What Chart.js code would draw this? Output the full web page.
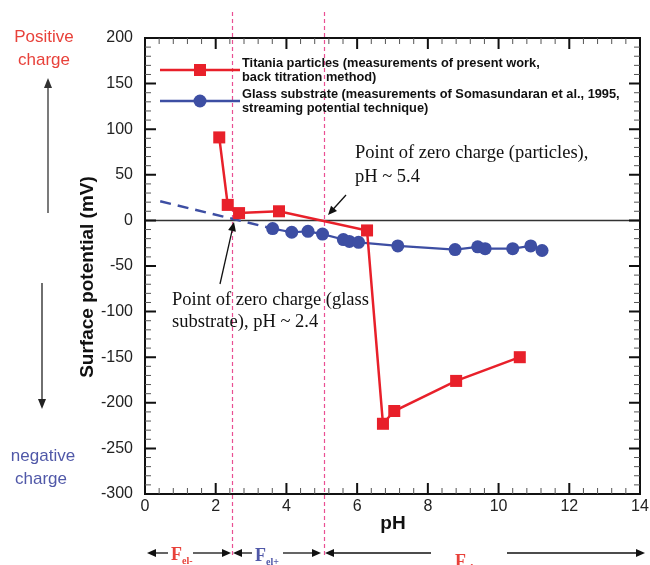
<!DOCTYPE html>
<html>
<head>
<meta charset="utf-8">
<script src="https://cdn.jsdelivr.net/npm/chart.js@4.4.1/dist/chart.umd.min.js"></script>
<style>
html,body{margin:0;padding:0;background:#fff;}
#wrap{width:650px;height:565px;position:relative;}
</style>
</head>
<body>
<div id="wrap"><canvas id="c" width="650" height="565"></canvas></div>
<script>
// ---- data ----
const titaniaPH = [2.10, 2.34, 2.66, 3.79, 6.28, 6.73, 7.05, 8.80, 10.60];
const titaniaMV = [91, 17, 8, 10, -11, -223, -209, -176, -150];
const glassPH = [3.61, 4.15, 4.61, 5.02, 5.61, 5.78, 6.04, 7.15, 8.77, 9.41, 9.62, 10.40, 10.91, 11.23];
const glassMV = [-9, -13, -12, -15, -21, -23, -24, -28, -32, -29, -31, -31, -28, -33];
const glassExtrapPH = [0.43, 3.61];
const glassExtrapMV = [21, -9];
const pzcLines = [2.45, 5.05];
const xTicks = [0, 2, 4, 6, 8, 10, 12, 14];
const yTicks = [200, 150, 100, 50, 0, -50, -100, -150, -200, -250, -300];
const legendLabels = [
  ["Titania particles (measurements of present work,", "back titration method)"],
  ["Glass substrate (measurements of Somasundaran et al., 1995,", "streaming potential technique)"]
];

const RED = '#e8202a';
const BLUE = '#3d4ea3';

function pts(xs, ys){ return xs.map((x,i)=>({x:x, y:ys[i]})); }

function arrowHead(ctx, x1, y1, x2, y2, len, w){
  const a = Math.atan2(y2-y1, x2-x1);
  ctx.beginPath();
  ctx.moveTo(x2, y2);
  ctx.lineTo(x2 - len*Math.cos(a) + w*Math.sin(a), y2 - len*Math.sin(a) - w*Math.cos(a));
  ctx.lineTo(x2 - len*Math.cos(a) - w*Math.sin(a), y2 - len*Math.sin(a) + w*Math.cos(a));
  ctx.closePath();
  ctx.fill();
}
function arrow(ctx, x1, y1, x2, y2, color, lw, len, w){
  ctx.save();
  ctx.strokeStyle = color; ctx.fillStyle = color; ctx.lineWidth = lw;
  const a = Math.atan2(y2-y1, x2-x1);
  ctx.beginPath(); ctx.moveTo(x1,y1); ctx.lineTo(x2 - (len-1)*Math.cos(a), y2 - (len-1)*Math.sin(a)); ctx.stroke();
  arrowHead(ctx, x1, y1, x2, y2, len, w);
  ctx.restore();
}

const decor = {
  id: 'decor',
  beforeDatasetsDraw(chart){
    const ctx = chart.ctx, xs = chart.scales.x;
    ctx.save();
    ctx.strokeStyle = '#ea4f93'; ctx.lineWidth = 1.2; ctx.setLineDash([4,3]);
    pzcLines.forEach(v=>{
      const px = Math.round(xs.getPixelForValue(v)) + 0.5;
      ctx.beginPath(); ctx.moveTo(px, 12); ctx.lineTo(px, 558); ctx.stroke();
    });
    ctx.restore();
  },
  afterDraw(chart){
    const ctx = chart.ctx, xs = chart.scales.x, ys = chart.scales.y, a = chart.chartArea;
    ctx.save();
    // frame
    ctx.strokeStyle = '#111'; ctx.lineWidth = 2;
    ctx.strokeRect(a.left, a.top, a.right - a.left, a.bottom - a.top);
    // ticks
    for (let v = 0; v <= 14.001; v += 0.4) {
      const major = Math.abs(v/2 - Math.round(v/2)) < 1e-6;
      const px = xs.getPixelForValue(v), L = major ? 11 : 6;
      ctx.lineWidth = major ? 2 : 1;
      ctx.strokeStyle = major ? '#111' : '#555';
      ctx.beginPath(); ctx.moveTo(px, a.bottom); ctx.lineTo(px, a.bottom - L);
      ctx.moveTo(px, a.top); ctx.lineTo(px, a.top + L); ctx.stroke();
    }
    for (let v = -300; v <= 200; v += 10) {
      const major = v % 50 === 0;
      const py = ys.getPixelForValue(v), L = major ? 11 : 6;
      ctx.lineWidth = major ? 2 : 1;
      ctx.strokeStyle = major ? '#111' : '#555';
      ctx.beginPath(); ctx.moveTo(a.left, py); ctx.lineTo(a.left + L, py);
      ctx.moveTo(a.right, py); ctx.lineTo(a.right - L, py); ctx.stroke();
    }
    // legend
    const lx1 = 160, lx2 = 240, lm = 200;
    const rows = [{y:70, c:RED, shape:'rect'}, {y:101, c:BLUE, shape:'circle'}];
    rows.forEach((r,i)=>{
      ctx.strokeStyle = r.c; ctx.fillStyle = r.c; ctx.lineWidth = 2.5;
      ctx.beginPath(); ctx.moveTo(lx1, r.y); ctx.lineTo(lx2, r.y); ctx.stroke();
      if (r.shape === 'rect') ctx.fillRect(lm-6, r.y-6, 12, 12);
      else { ctx.beginPath(); ctx.arc(lm, r.y, 6.5, 0, Math.PI*2); ctx.fill(); }
      ctx.fillStyle = '#111';
      ctx.font = 'bold 12.8px "Liberation Sans", Arial, sans-serif';
      ctx.textAlign = 'left'; ctx.textBaseline = 'middle';
      ctx.fillText(legendLabels[i][0], 242, r.y - 7);
      ctx.fillText(legendLabels[i][1], 242, r.y + 7);
    });
    // annotations (serif)
    ctx.fillStyle = '#111';
    ctx.font = '18.5px "Liberation Serif", "Times New Roman", serif';
    ctx.textAlign = 'left'; ctx.textBaseline = 'middle';
    ctx.fillText('Point of zero charge (particles),', 355, 153);
    ctx.fillText('pH ~ 5.4', 355, 177);
    ctx.fillText('Point of zero charge (glass', 172, 300);
    ctx.fillText('substrate), pH ~ 2.4', 172, 322);
    arrow(ctx, 346, 195, 328, 215, '#111', 1.3, 9, 4);
    arrow(ctx, 220, 284, 234, 222, '#111', 1.3, 9, 4);
    // left side labels
    ctx.font = '17px "Liberation Sans", Arial, sans-serif';
    ctx.textAlign = 'center';
    ctx.fillStyle = '#e8413a';
    ctx.fillText('Positive', 44, 37);
    ctx.fillText('charge', 44, 60);
    ctx.fillStyle = '#5058a8';
    ctx.fillText('negative', 43, 456);
    ctx.fillText('charge', 41, 479);
    arrow(ctx, 48, 213, 48, 78, '#333', 1.3, 10, 4);
    arrow(ctx, 42, 283, 42, 409, '#222', 1.3, 10, 4);
    // axis titles
    ctx.fillStyle = '#111';
    ctx.font = 'bold 19px "Liberation Sans", Arial, sans-serif';
    ctx.textAlign = 'center';
    ctx.fillText('pH', 393, 524);
    ctx.save();
    ctx.translate(88, 277); ctx.rotate(-Math.PI/2);
    ctx.font = 'bold 19px "Liberation Sans", Arial, sans-serif';
    ctx.fillText('Surface potential (mV)', 0, 0);
    ctx.restore();
    // bottom force row
    const by = 553;
    arrow(ctx, 168, by, 147, by, '#111', 1.3, 9, 4);
    arrow(ctx, 193, by, 231, by, '#111', 1.3, 9, 4);
    arrow(ctx, 252, by, 233, by, '#111', 1.3, 9, 4);
    arrow(ctx, 283, by, 321, by, '#111', 1.3, 9, 4);
    arrow(ctx, 431, by, 325, by, '#111', 1.3, 9, 4);
    arrow(ctx, 507, by, 645, by, '#111', 1.3, 9, 4);
    function force(x, y, color, sub){
      ctx.fillStyle = color; ctx.textAlign = 'left'; ctx.textBaseline = 'alphabetic';
      ctx.font = 'bold 18px "Liberation Serif", "Times New Roman", serif';
      ctx.fillText('F', x, y);
      const w = ctx.measureText('F').width;
      ctx.font = 'bold 10px "Liberation Serif", "Times New Roman", serif';
      ctx.fillText(sub, x + w, y + 4);
    }
    force(171, 560, '#e8413a', 'el-');
    force(255, 561, '#5058a8', 'el+');
    force(455, 567, '#e8413a', 'el-');
    ctx.restore();
  }
};

new Chart(document.getElementById('c'), {
  type: 'scatter',
  data: {
    datasets: [
      { label: legendLabels[0].join(' '), data: pts(titaniaPH, titaniaMV), showLine: true,
        borderColor: RED, backgroundColor: RED, borderWidth: 2.5, pointStyle: 'rect',
        pointRadius: 8.5, pointBorderWidth: 0, order: 0 },
      { label: legendLabels[1].join(' '), data: pts(glassPH, glassMV), showLine: true,
        borderColor: BLUE, backgroundColor: BLUE, borderWidth: 2.2, pointStyle: 'circle',
        pointRadius: 6.5, pointBorderWidth: 0, order: 1 },
      { label: 'extrapolation', data: pts(glassExtrapPH, glassExtrapMV), showLine: true,
        borderColor: BLUE, borderWidth: 2.5, borderDash: [11, 7], pointRadius: 0, order: 2 },
      { label: 'zero', data: [{x:0,y:0},{x:14,y:0}], showLine: true,
        borderColor: '#333', borderWidth: 1.5, pointRadius: 0, order: 3 }
    ]
  },
  options: {
    responsive: false, animation: false,
    layout: { padding: { top: 38, right: 10, left: 0, bottom: 0 } },
    plugins: { legend: { display: false }, tooltip: { enabled: false }, title: { display: false } },
    scales: {
      x: { type: 'linear', min: 0, max: 14,
        afterFit: s => { s.height = 71; },
        afterBuildTicks: s => { s.ticks = xTicks.map(v => ({value: v})); },
        grid: { display: false }, border: { display: false },
        ticks: { padding: -5, color: '#222', font: { family: '"Liberation Sans", Arial, sans-serif', size: 16 } } },
      y: { type: 'linear', min: -300, max: 200,
        afterFit: s => { s.width = 145; },
        afterBuildTicks: s => { s.ticks = yTicks.map(v => ({value: v})); },
        grid: { display: false }, border: { display: false },
        ticks: { padding: 4, color: '#222', font: { family: '"Liberation Sans", Arial, sans-serif', size: 16 } } }
    }
  },
  plugins: [decor]
});
</script>
</body>
</html>
